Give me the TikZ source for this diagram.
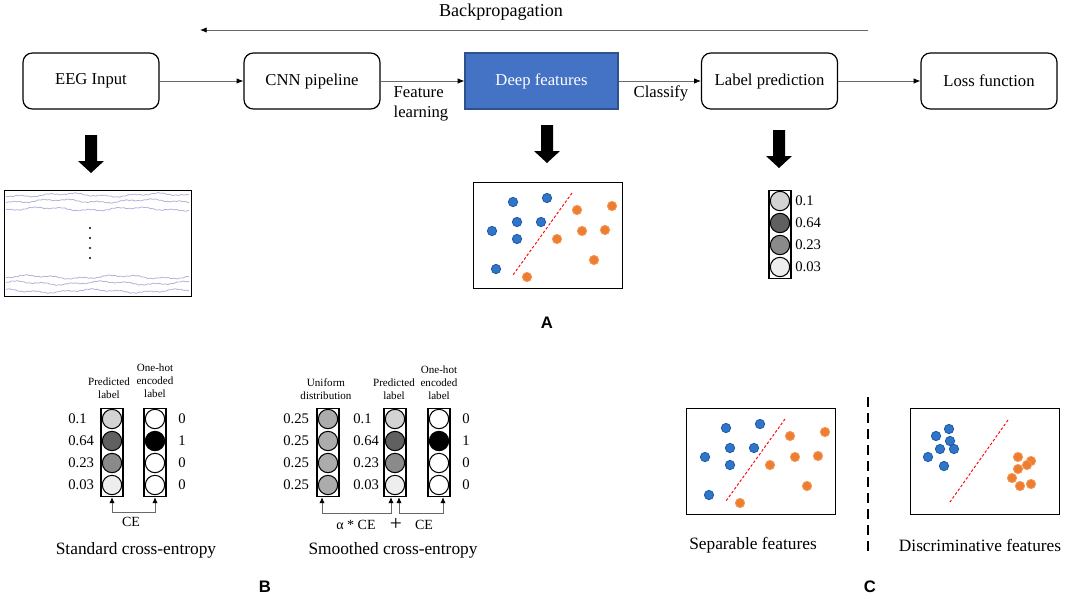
\documentclass[tikz,border=0pt]{standalone}
\usepackage{fontspec}
\setmainfont{Liberation Serif}
\newfontfamily\panelfont{Liberation Sans}
\usepackage{tikz}
\usetikzlibrary{calc}
\usetikzlibrary{arrows.meta,shapes}
\definecolor{deepblue}{RGB}{68,114,196}
\definecolor{deepedge}{RGB}{47,82,143}
\definecolor{ptblue}{RGB}{48,118,200}
\definecolor{ptblueedge}{RGB}{28,88,168}
\definecolor{ptorange}{RGB}{237,125,49}
\definecolor{ptorangeedge}{RGB}{246,152,86}
\definecolor{eegline}{RGB}{178,178,220}
\definecolor{flowgray}{RGB}{105,105,105}
\definecolor{p01}{RGB}{211,211,211}
\definecolor{p64}{RGB}{96,96,96}
\definecolor{p23}{RGB}{138,138,138}
\definecolor{p03}{RGB}{238,238,238}
\definecolor{puni}{RGB}{172,172,172}
\tikzstyle{stage}=[draw=black,line width=0.9pt,rounded corners=7pt,minimum width=102pt,
                minimum height=42pt,font=\fontsize{12.5}{15}\selectfont]
\tikzstyle{deep}=[stage,rounded corners=0pt,fill=deepblue,draw=deepedge,text=white,minimum width=114.75pt]
\tikzstyle{flow}=[draw=flowgray,line width=0.6pt,-{Latex[black,length=5pt,width=4pt]}]
\tikzstyle{tag}=[font=\fontsize{12.5}{14.5}\selectfont,inner sep=0pt]
\tikzstyle{plotbox}=[draw=black,line width=0.9pt,minimum width=111.75pt,minimum height=79.5pt,
                anchor=north west,inner sep=0]
\tikzstyle{colbox}=[draw=black,line width=0.9pt,minimum width=16.5pt,minimum height=66pt,anchor=north,inner sep=0]
\tikzstyle{cell}=[circle,draw=black,line width=0.8pt,minimum size=14.5pt,inner sep=0]
\tikzstyle{val}=[anchor=west,inner sep=0pt,font=\fontsize{11}{13}\selectfont]
\tikzstyle{head}=[align=center,inner sep=0pt,font=\fontsize{8.3}{9.7}\selectfont]
\tikzstyle{ce}=[draw=flowgray,line width=0.6pt,-{Latex[black,length=4.5pt,width=4pt]}]
\tikzstyle{bluept}=[circle,fill=ptblue,draw=ptblueedge,line width=0.6pt,minimum size=7pt,inner sep=0]
\tikzstyle{orangept}=[circle,fill=ptorange,draw=ptorangeedge,line width=0.6pt,minimum size=7pt,inner sep=0]
\tikzstyle{sepline}=[draw=red,line width=0.7pt,dash pattern=on 2pt off 1.5pt]
\tikzstyle{panel}=[font=\panelfont\bfseries\fontsize{12.5}{14}\selectfont,inner sep=0pt]
\tikzstyle{caption}=[font=\fontsize{13}{15}\selectfont,inner sep=0pt]

\newcommand{\bigarrow}[2]{%
  \fill[black] (#1-6,#2) -- (#1+6,#2) -- (#1+6,#2+26) -- (#1+13,#2+26) -- (#1,#2+38)
    -- (#1-13,#2+26) -- (#1-6,#2+26) -- cycle;}
\newcommand{\probcol}[6]{%
  \node[colbox] (#1) at (#2,#3) {};
  \foreach \f [count=\i] in {#4}
    \node[cell,fill=\f] (#1-\i) at (#2,{#3+11+22*(\i-1)}) {};
  \foreach \v [count=\i] in {#5}
    \node[val] (#1-v\i) at (#6,{#3+11+22*(\i-1)}) {\v};}
\newcommand{\featplot}[7]{%
  \node[plotbox] (#1) at (#2,#3) {};
  \begin{scope}[shift={(#2,#3)}]
    \draw[sepline] #6 -- #7;
    \foreach \p [count=\i] in {#4} \node[bluept] (#1-b\i) at \p {};
    \foreach \p [count=\i] in {#5} \node[orangept] (#1-o\i) at \p {};
  \end{scope}}

\begin{document}
\begin{tikzpicture}[x=0.75pt,y=-0.75pt]
\useasboundingbox (0,0) rectangle (1084,604);
\fill[white] (0,0) rectangle (1084,604);

\node[stage] (eeg) at (91,81) {EEG Input};
\node[stage] (cnn) at (312,81) {CNN pipeline};
\node[deep] (feat) at (541.5,81) {Deep features};
\node[stage] (pred) at (769.5,81) {Label prediction};
\node[stage] (loss) at (989,81) {Loss function};
\draw[flow] (eeg) -- (cnn);
\draw[flow] (cnn) -- (feat);
\draw[flow] (feat) -- (pred);
\draw[flow] (pred) -- (loss);
\node[tag,align=left] (learn) at (421,104) {Feature\\learning};
\node[tag] (classify) at (661,93) {Classify};

\coordinate (bpR) at (868,30);
\coordinate (bpL) at (200,30);
\draw[flow] (bpR) -- (bpL);
\node[tag,font=\fontsize{13.6}{15}\selectfont] (bp) at (501,12) {Backpropagation};

\bigarrow{91}{135}
\bigarrow{547}{125}
\bigarrow{779}{130}

% EEG traces
\node[plotbox,minimum width=140.25pt] (eegplot) at (4,190) {};
\foreach \tr/\ph in {195/0,201/40,209/95,277/150,283/210,291/260}
  \draw[eegline,line width=0.6pt] plot[domain=6:189,samples=120]
    (\x,{\tr+1.3*sin(\x*4+\ph)+0.8*sin(\x*13+2*\ph)+0.35*sin(\x*61+3*\ph)});
\foreach \d in {228,238,248,258}
  \fill (90,\d) circle (0.8pt);

\featplot{plotA}{473}{182}
  {(40,20),(74,16),(44,40),(68,40),(19,49),(44,57),(23,87)}
  {(104,28),(139,24),(109,49),(132,48),(84,57),(121,78),(54,95)}
  {(99,11)}{(40,93)}
\node[panel] (lblA) at (547,323) {A};

\probcol{labcol}{780}{190}{p01,p64,p23,p03}{0.1,0.64,0.23,0.03}{795}

% standard cross-entropy
\node[head] (hPredA) at (109,388) {Predicted\\label};
\node[head] (hOneA) at (155,381) {One-hot\\encoded\\label};
\probcol{predA}{112}{408}{p01,p64,p23,p03}{0.1,0.64,0.23,0.03}{68}
\probcol{oneA}{155}{408}{white,black,white,white}{0,1,0,0}{178}
\coordinate (ceA) at (134,512);
\draw[ce] (ceA) -| (predA.south);
\draw[ce] (ceA) -| (oneA.south);
\node[val,anchor=center,font=\fontsize{10.5}{12}\selectfont] (ceTxtA) at (131,522) {CE};
\node[caption] (capA) at (136,550) {Standard cross-entropy};

% smoothed cross-entropy
\node[head] (hUniB) at (326,389.5) {Uniform\\distribution};
\node[head] (hPredB) at (394,389.5) {Predicted\\label};
\node[head] (hOneB) at (439,383) {One-hot\\encoded\\label};
\probcol{uniB}{328}{408}{puni,puni,puni,puni}{0.25,0.25,0.25,0.25}{283}
\probcol{predB}{395}{408}{p01,p64,p23,p03}{0.1,0.64,0.23,0.03}{353}
\probcol{oneB}{439}{408}{white,black,white,white}{0,1,0,0}{462}
\coordinate (ceB1) at (356,513);
\coordinate (ceB2) at (421,513);
\draw[ce] (ceB1) -| ($(uniB.south)+(-6,0)$);
\draw[ce] (ceB1) -| ($(predB.south)+(-4,0)$);
\draw[ce] (ceB2) -| ($(predB.south)+(4,0)$);
\draw[ce] (ceB2) -| ($(oneB.south)+(4,0)$);
\node[val,anchor=center,font=\fontsize{10.5}{12}\selectfont] (alphaTxt) at (356,525) {α * CE};
\node[val,anchor=center,font=\fontsize{16}{18}\selectfont] (plusTxt) at (396,524) {+};
\node[val,anchor=center,font=\fontsize{10.5}{12}\selectfont] (ceTxtB) at (424,525) {CE};
\node[caption] (capB) at (393,550) {Smoothed cross-entropy};
\node[panel] (lblB) at (265,587) {B};

% separable vs discriminative
\featplot{plotC}{686}{408}
  {(40,20),(74,16),(44,40),(68,40),(19,49),(44,57),(23,87)}
  {(104,28),(139,24),(109,49),(132,48),(84,57),(121,78),(54,95)}
  {(99,11)}{(40,93)}
\featplot{plotD}{910}{408}
  {(39,21),(26,28),(40,33),(30,41),(44,41),(18,49),(34,58)}
  {(108,49),(121,53),(117,57),(108,61),(102,70),(110,78),(121,76)}
  {(98,12)}{(40,94)}
\coordinate (divT) at (868,397);
\coordinate (divB) at (868,557);
\draw[line width=2.2pt,dash pattern=on 7.5pt off 4.5pt] (divT) -- (divB);
\node[caption] (capC) at (753,545) {Separable features};
\node[caption] (capD) at (980,545) {Discriminative features};
\node[panel] (lblC) at (870,587) {C};
\end{tikzpicture}
\end{document}
